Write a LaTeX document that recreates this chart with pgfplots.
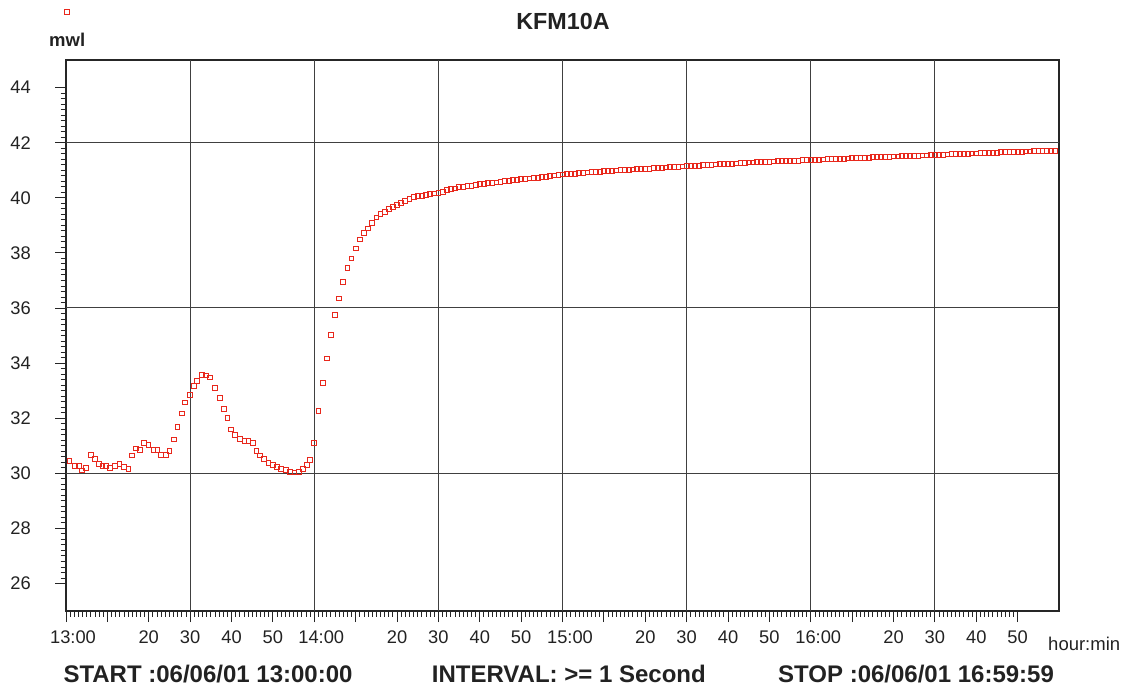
\documentclass[border=0pt]{standalone}
\usepackage{fontspec}
\setmainfont{Liberation Sans}
\usepackage{pgfplots}
\pgfplotsset{compat=1.18}
\definecolor{mk}{RGB}{232,40,28}
\definecolor{tx}{RGB}{34,34,34}
\begin{document}
\begin{tikzpicture}[x=1pt,y=1pt]
\useasboundingbox (0,0) rectangle (1131,693);
\begin{axis}[
  at={(66pt,82pt)}, anchor=south west,
  scale only axis, width=993pt, height=551pt,
  xmin=0, xmax=240, ymin=25, ymax=45,
  xtick={0,10,...,230},
  xticklabels={{\hspace{14pt}13:00},{},20,30,40,50,{\hspace{14pt}14:00},{},20,30,40,50,{\hspace{15pt}15:00},{},20,30,40,50,{\hspace{15pt}16:00},{},20,30,40,50},
  minor x tick num=9,
  ytick={26,28,...,44},
  yticklabels={26,28,30,32,34,36,38,40,42,44},
  minor y tick num=9,
  extra x ticks={30,60,90,120,150,180,210},
  extra x tick labels={},
  extra x tick style={grid=major},
  extra y ticks={30,36,42},
  extra y tick labels={},
  extra y tick style={grid=major},
  major grid style={black!75, line width=0.9pt},
  xtick pos=bottom, ytick pos=left,
  tick align=outside,
  major tick length=11pt, minor tick length=5.5pt,
  tick style={black!85, line width=0.8pt},
  axis line style={black!85, line width=1.1pt},
  every tick label/.append style={font=\fontsize{18.3}{20}\selectfont, text=tx, inner sep=0pt},
  every x tick label/.append style={anchor=north, yshift=-9pt},
  every y tick label/.append style={anchor=east, xshift=-24pt, text=tx},
  legend style={at={(0.001,1.087)}, anchor=center, draw=none, fill=none, inner sep=0pt, outer sep=0pt, nodes={inner sep=0pt}},
  legend image code/.code={\draw[#1] plot coordinates {(0pt,0pt)};},
]
\addplot[only marks, mark=square, mark size=2.4pt, mk, line width=0.8pt] coordinates {
(0.8,30.45)(2.2,30.26)(3.2,30.26)(3.8,30.10)(4.8,30.20)(6.0,30.68)(6.9,30.52)(8.0,30.35)(8.8,30.28)(9.7,30.28)
(10.6,30.20)(11.9,30.28)(12.9,30.35)(13.9,30.23)(15.1,30.17)(15.9,30.65)(16.9,30.90)(17.9,30.84)(18.9,31.10)(19.9,31.02)
(21.1,30.84)(22.1,30.84)(23.0,30.68)(24.2,30.68)(25.0,30.81)(26.1,31.23)(26.9,31.68)(28.0,32.17)(28.8,32.57)(30.0,32.84)
(30.9,33.16)(31.7,33.35)(32.8,33.56)(33.8,33.55)(34.8,33.48)(35.9,33.10)(37.1,32.74)(38.1,32.35)(39.0,32.00)(39.9,31.59)
(40.9,31.38)(42.1,31.26)(43.1,31.17)(44.1,31.16)(45.1,31.10)(46.0,30.80)(46.9,30.65)(47.9,30.52)(48.9,30.38)(50.0,30.29)
(51.0,30.23)(52.0,30.17)(53.2,30.11)(54.2,30.05)(55.2,30.03)(56.2,30.04)(57.3,30.17)(58.2,30.29)(59.0,30.47)(60.0,31.10)
(61,32.25)(62,33.27)(63,34.17)(64,35.01)(65,35.74)(66,36.35)(67,36.94)(68,37.44)(69,37.80)(70,38.16)
(71,38.49)(72,38.71)(73,38.89)(74,39.10)(75,39.29)(76,39.41)(77,39.49)(78,39.59)(79,39.67)(80,39.74)
(81,39.80)(82,39.88)(83,39.95)(84,40.02)(85,40.06)(86,40.07)(87,40.10)(88,40.14)(89,40.16)(90,40.18)
(91,40.22)(92,40.28)(93,40.31)(94,40.34)(95,40.38)(96,40.40)(97,40.43)(98,40.44)(99,40.47)(100,40.49)
(101,40.51)(102,40.53)(103,40.54)(104,40.56)(105,40.58)(106,40.60)(107,40.62)(108,40.64)(109,40.65)(110,40.67)
(111,40.69)(112,40.70)(113,40.72)(114,40.73)(115,40.75)(116,40.77)(117,40.79)(118,40.81)(119,40.83)(120,40.85)
(121,40.86)(122,40.87)(123,40.88)(124,40.89)(125,40.91)(126,40.92)(127,40.93)(128,40.94)(129,40.95)(130,40.96)
(131,40.97)(132,40.98)(133,40.99)(134,41.00)(135,41.01)(136,41.02)(137,41.03)(138,41.04)(139,41.05)(140,41.06)
(141,41.06)(142,41.07)(143,41.08)(144,41.09)(145,41.10)(146,41.11)(147,41.12)(148,41.13)(149,41.14)(150,41.15)
(151,41.16)(152,41.17)(153,41.17)(154,41.18)(155,41.19)(156,41.20)(157,41.21)(158,41.22)(159,41.22)(160,41.23)
(161,41.24)(162,41.25)(163,41.26)(164,41.27)(165,41.28)(166,41.28)(167,41.29)(168,41.30)(169,41.31)(170,41.31)
(171,41.32)(172,41.33)(173,41.33)(174,41.34)(175,41.34)(176,41.35)(177,41.35)(178,41.36)(179,41.36)(180,41.37)
(181,41.38)(182,41.38)(183,41.39)(184,41.40)(185,41.40)(186,41.41)(187,41.42)(188,41.42)(189,41.43)(190,41.44)
(191,41.44)(192,41.45)(193,41.46)(194,41.46)(195,41.47)(196,41.47)(197,41.48)(198,41.48)(199,41.49)(200,41.50)
(201,41.50)(202,41.51)(203,41.51)(204,41.52)(205,41.52)(206,41.53)(207,41.54)(208,41.54)(209,41.55)(210,41.55)
(211,41.56)(212,41.56)(213,41.57)(214,41.58)(215,41.58)(216,41.59)(217,41.60)(218,41.60)(219,41.61)(220,41.61)
(221,41.62)(222,41.63)(223,41.63)(224,41.64)(225,41.64)(226,41.65)(227,41.65)(228,41.66)(229,41.66)(230,41.67)
(231,41.67)(232,41.68)(233,41.68)(234,41.69)(235,41.69)(236,41.70)(237,41.70)(238,41.71)(239,41.71)
};
\addlegendentry{}
\end{axis}
\node[anchor=base, font=\bfseries\fontsize{23.3}{26}\selectfont, text=tx, inner sep=0pt] at (563,663) {KFM10A};
\node[anchor=base west, font=\bfseries\fontsize{18.5}{20}\selectfont, text=tx, inner sep=0pt] at (49,646.3) {mwl};
\node[anchor=base west, font=\fontsize{18.5}{20}\selectfont, text=tx, inner sep=0pt] at (1048,42.3) {hour:min};
\node[anchor=base west, font=\bfseries\fontsize{24}{26}\selectfont, text=tx, inner sep=0pt] at (63.3,10.3) {START :06/06/01 13:00:00};
\node[anchor=base west, font=\bfseries\fontsize{24}{26}\selectfont, text=tx, inner sep=0pt] at (431.7,10.3) {INTERVAL: >= 1 Second};
\node[anchor=base west, font=\bfseries\fontsize{24}{26}\selectfont, text=tx, inner sep=0pt] at (778,10.3) {STOP :06/06/01 16:59:59};
\end{tikzpicture}
\end{document}
